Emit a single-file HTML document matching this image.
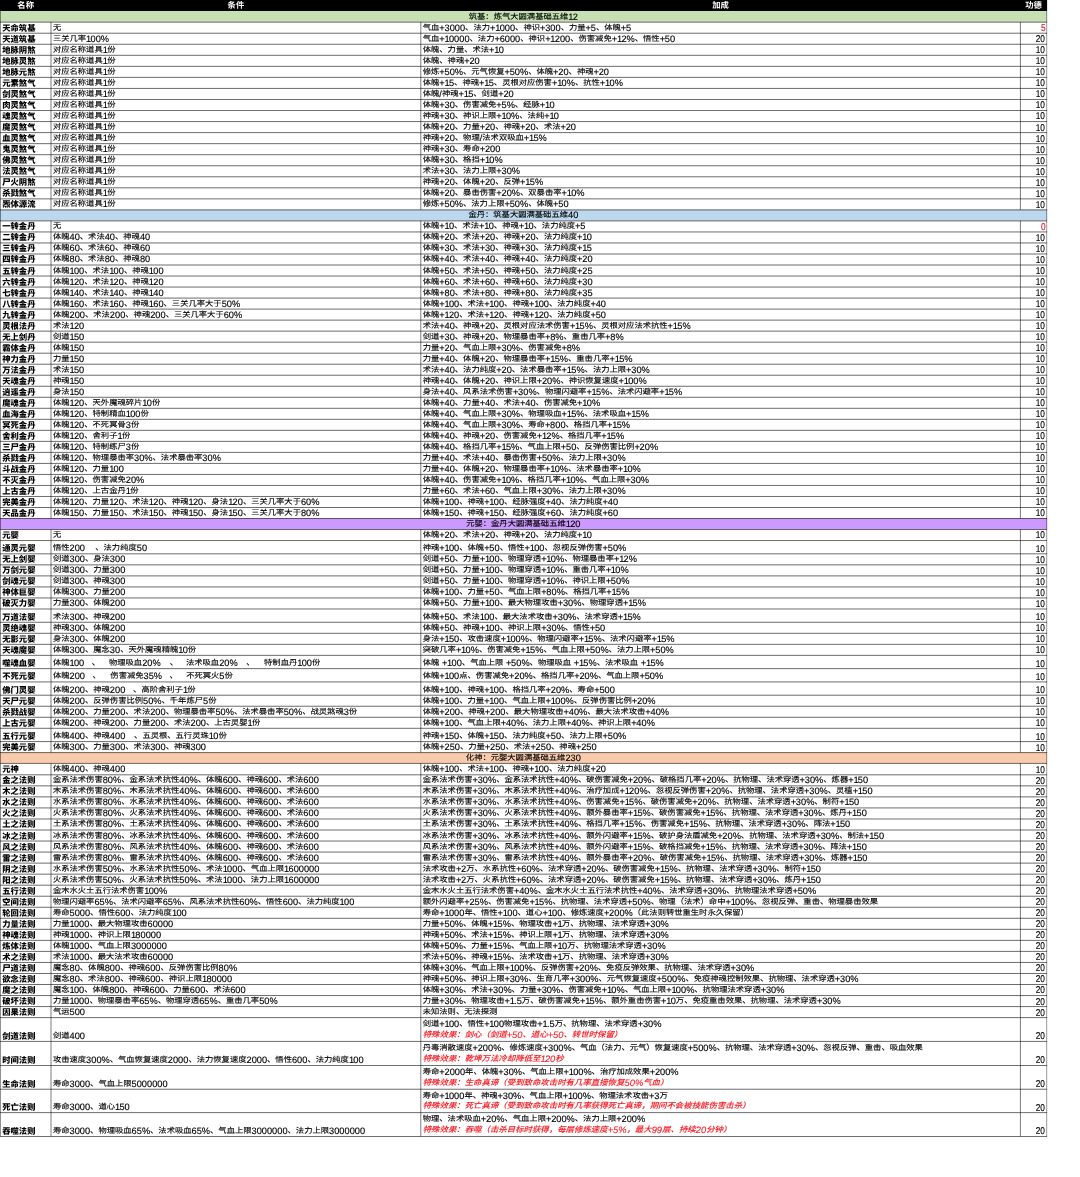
<!DOCTYPE html>
<html lang="zh-CN"><head><meta charset="utf-8"><title>功德表</title>
<style>
html,body{margin:0;padding:0;background:#fff}
body{width:1080px;height:1177px;position:relative;overflow:hidden;
 font-family:"Liberation Sans","Noto Sans CJK SC",sans-serif;font-size:8.3px;color:#000;text-rendering:geometricPrecision}
svg{position:absolute;left:0;top:0}
svg path{stroke:#000;stroke-width:0.58;fill:none}
svg path.v{stroke-width:0.52}
.c{position:absolute;height:12px;line-height:12px;white-space:pre;overflow:visible}
.c b{font-weight:inherit;line-height:0;font-size:9.25px}
.c i.g{display:inline-block;height:1px}
.k{display:inline-block;transform:scaleY(.9);transform-origin:0 12%}
.n{font-weight:900}
.h{color:#fff;font-weight:bold;text-align:center}
.s{text-align:center}
.t,.s,.m{-webkit-text-stroke-width:.14px}
.sp{-webkit-text-stroke-width:.1px}
.c u,.c s{text-decoration:none}
.c u{letter-spacing:-.7px}
.c s{letter-spacing:-.2px}
.c em{font-style:inherit;letter-spacing:-.05px}
.m{text-align:right}
.m span{line-height:0;font-size:9.9px;display:inline-block;transform:scaleX(.84);transform-origin:100% 50%}
.red{color:#d0202c}
.sp{color:#f81c24;font-style:italic;font-size:8.42px;font-weight:500}
.sp b{font-style:italic;font-size:9.38px}
</style></head>
<body>
<svg width="1080" height="1177" viewBox="0 0 1080 1177">
<rect x="0" y="0" width="1047.1" height="11" fill="#000"/>
<rect x="0" y="11" width="1047.1" height="10.95" fill="#c6e0b4"/>
<rect x="0" y="209.7" width="1047.1" height="11" fill="#bdd7ee"/>
<rect x="0" y="518.3" width="1047.1" height="11" fill="#cc99ff"/>
<rect x="0" y="752.4" width="1047.1" height="10.8" fill="#f8cbad"/>
<path d="M0 22.17 H1047.1" />
<path d="M0 33.21 H1047.1" />
<path d="M0 44.26 H1047.1" />
<path d="M0 55.3 H1047.1" />
<path d="M0 66.35 H1047.1" />
<path d="M0 77.39 H1047.1" />
<path d="M0 88.43 H1047.1" />
<path d="M0 99.48 H1047.1" />
<path d="M0 110.52 H1047.1" />
<path d="M0 121.57 H1047.1" />
<path d="M0 132.61 H1047.1" />
<path d="M0 143.66 H1047.1" />
<path d="M0 154.7 H1047.1" />
<path d="M0 165.74 H1047.1" />
<path d="M0 176.79 H1047.1" />
<path d="M0 187.83 H1047.1" />
<path d="M0 198.88 H1047.1" />
<path d="M0 209.92 H1047.1" />
<path d="M0 220.92 H1047.1" />
<path d="M0 231.94 H1047.1" />
<path d="M0 242.96 H1047.1" />
<path d="M0 253.99 H1047.1" />
<path d="M0 265.01 H1047.1" />
<path d="M0 276.03 H1047.1" />
<path d="M0 287.05 H1047.1" />
<path d="M0 298.08 H1047.1" />
<path d="M0 309.1 H1047.1" />
<path d="M0 320.12 H1047.1" />
<path d="M0 331.14 H1047.1" />
<path d="M0 342.16 H1047.1" />
<path d="M0 353.19 H1047.1" />
<path d="M0 364.21 H1047.1" />
<path d="M0 375.23 H1047.1" />
<path d="M0 386.25 H1047.1" />
<path d="M0 397.28 H1047.1" />
<path d="M0 408.3 H1047.1" />
<path d="M0 419.32 H1047.1" />
<path d="M0 430.34 H1047.1" />
<path d="M0 441.36 H1047.1" />
<path d="M0 452.39 H1047.1" />
<path d="M0 463.41 H1047.1" />
<path d="M0 474.43 H1047.1" />
<path d="M0 485.45 H1047.1" />
<path d="M0 496.48 H1047.1" />
<path d="M0 507.5 H1047.1" />
<path d="M0 518.52 H1047.1" />
<path d="M0 529.52 H1047.1" />
<path d="M0 540.55 H1047.1" />
<path d="M0 553.84 H1047.1" />
<path d="M0 564.87 H1047.1" />
<path d="M0 575.9 H1047.1" />
<path d="M0 586.93 H1047.1" />
<path d="M0 597.96 H1047.1" />
<path d="M0 608.99 H1047.1" />
<path d="M0 622.27 H1047.1" />
<path d="M0 633.3 H1047.1" />
<path d="M0 644.33 H1047.1" />
<path d="M0 655.36 H1047.1" />
<path d="M0 668.64 H1047.1" />
<path d="M0 681.93 H1047.1" />
<path d="M0 695.21 H1047.1" />
<path d="M0 706.24 H1047.1" />
<path d="M0 717.27 H1047.1" />
<path d="M0 728.3 H1047.1" />
<path d="M0 741.59 H1047.1" />
<path d="M0 752.62 H1047.1" />
<path d="M0 763.42 H1047.1" />
<path d="M0 774.82 H1047.1" />
<path d="M0 785.86 H1047.1" />
<path d="M0 796.89 H1047.1" />
<path d="M0 807.93 H1047.1" />
<path d="M0 818.97 H1047.1" />
<path d="M0 830 H1047.1" />
<path d="M0 841.04 H1047.1" />
<path d="M0 852.07 H1047.1" />
<path d="M0 863.11 H1047.1" />
<path d="M0 874.15 H1047.1" />
<path d="M0 885.18 H1047.1" />
<path d="M0 896.22 H1047.1" />
<path d="M0 907.26 H1047.1" />
<path d="M0 918.29 H1047.1" />
<path d="M0 929.33 H1047.1" />
<path d="M0 940.37 H1047.1" />
<path d="M0 951.4 H1047.1" />
<path d="M0 962.44 H1047.1" />
<path d="M0 973.47 H1047.1" />
<path d="M0 984.51 H1047.1" />
<path d="M0 995.55 H1047.1" />
<path d="M0 1006.58 H1047.1" />
<path d="M0 1017.62 H1047.1" />
<path d="M0 1041.42 H1047.1" />
<path d="M0 1065.52 H1047.1" />
<path d="M0 1089.22 H1047.1" />
<path d="M0 1112.62 H1047.1" />
<path d="M0 1136.52 H1047.1" />
<path class="v" d="M51 21.95 V209.7" />
<path class="v" d="M420.8 21.95 V209.7" />
<path class="v" d="M1020.4 21.95 V209.7" />
<path class="v" d="M51 220.7 V518.3" />
<path class="v" d="M420.8 220.7 V518.3" />
<path class="v" d="M1020.4 220.7 V518.3" />
<path class="v" d="M51 529.3 V752.4" />
<path class="v" d="M420.8 529.3 V752.4" />
<path class="v" d="M1020.4 529.3 V752.4" />
<path class="v" d="M51 763.2 V1136.3" />
<path class="v" d="M420.8 763.2 V1136.3" />
<path class="v" d="M1020.4 763.2 V1136.3" />
<path class="v" d="M0.35 11 V1136.3" />
<path class="v" style="stroke-width:.4" d="M1046.7 11 V1136.3" />
</svg>
<div class="c h" style="left:0.35px;top:-1px;width:50.65px">名称</div>
<div class="c h" style="left:51px;top:-1px;width:369.8px">条件</div>
<div class="c h" style="left:420.8px;top:-1px;width:599.6px">加成</div>
<div class="c h" style="left:1020.4px;top:-1px;width:26.3px">功德</div>
<div class="c s" style="left:0px;top:11px;width:1046.7px"><span class="k">筑基：炼气大圆满基础五维</span><b><u>1</u>2</b></div>
<div class="c n" style="left:2.25px;top:22px;width:48.75px">天命筑基</div>
<div class="c t" style="left:52.9px;top:22px;width:367.9px"><span class="k">无</span></div>
<div class="c t" style="left:422.7px;top:22px;width:597.7px"><span class="k">气血</span><b><s>+</s>3000</b><span class="k">、法力</span><b><s>+</s><u>1</u>000</b><span class="k">、神识</span><b><s>+</s>300</b><span class="k">、力量</span><b><s>+</s>5</b><span class="k">、体魄</span><b><s>+</s>5</b></div>
<div class="c m red" style="left:1020.4px;top:22px;width:24.8px"><span>5</span></div>
<div class="c n" style="left:2.25px;top:33px;width:48.75px">天道筑基</div>
<div class="c t" style="left:52.9px;top:33px;width:367.9px"><span class="k">三关几率</span><b><u>1</u>00<em>%</em></b></div>
<div class="c t" style="left:422.7px;top:33px;width:597.7px"><span class="k">气血</span><b><s>+</s><u>1</u>0000</b><span class="k">、法力</span><b><s>+</s>6000</b><span class="k">、神识</span><b><s>+</s><u>1</u>200</b><span class="k">、伤害减免</span><b><s>+</s><u>1</u>2<em>%</em></b><span class="k">、悟性</span><b><s>+</s>50</b></div>
<div class="c m" style="left:1020.4px;top:33px;width:24.8px"><span>20</span></div>
<div class="c n" style="left:2.25px;top:44px;width:48.75px">地脉阴煞</div>
<div class="c t" style="left:52.9px;top:44px;width:367.9px"><span class="k">对应名称道具</span><b><u>1</u></b><span class="k">份</span></div>
<div class="c t" style="left:422.7px;top:44px;width:597.7px"><span class="k">体魄、力量、术法</span><b><s>+</s><u>1</u>0</b></div>
<div class="c m" style="left:1020.4px;top:44px;width:24.8px"><span>10</span></div>
<div class="c n" style="left:2.25px;top:55px;width:48.75px">地脉灵煞</div>
<div class="c t" style="left:52.9px;top:55px;width:367.9px"><span class="k">对应名称道具</span><b><u>1</u></b><span class="k">份</span></div>
<div class="c t" style="left:422.7px;top:55px;width:597.7px"><span class="k">体魄、神魂</span><b><s>+</s>20</b></div>
<div class="c m" style="left:1020.4px;top:55px;width:24.8px"><span>10</span></div>
<div class="c n" style="left:2.25px;top:66px;width:48.75px">地脉元煞</div>
<div class="c t" style="left:52.9px;top:66px;width:367.9px"><span class="k">对应名称道具</span><b><u>1</u></b><span class="k">份</span></div>
<div class="c t" style="left:422.7px;top:66px;width:597.7px"><span class="k">修炼</span><b><s>+</s>50<em>%</em></b><span class="k">、元气恢复</span><b><s>+</s>50<em>%</em></b><span class="k">、体魄</span><b><s>+</s>20</b><span class="k">、神魂</span><b><s>+</s>20</b></div>
<div class="c m" style="left:1020.4px;top:66px;width:24.8px"><span>10</span></div>
<div class="c n" style="left:2.25px;top:77px;width:48.75px">元素煞气</div>
<div class="c t" style="left:52.9px;top:77px;width:367.9px"><span class="k">对应名称道具</span><b><u>1</u></b><span class="k">份</span></div>
<div class="c t" style="left:422.7px;top:77px;width:597.7px"><span class="k">体魄</span><b><s>+</s><u>1</u>5</b><span class="k">、神魂</span><b><s>+</s><u>1</u>5</b><span class="k">、灵根对应伤害</span><b><s>+</s><u>1</u>0<em>%</em></b><span class="k">、抗性</span><b><s>+</s><u>1</u>0<em>%</em></b></div>
<div class="c m" style="left:1020.4px;top:77px;width:24.8px"><span>10</span></div>
<div class="c n" style="left:2.25px;top:88px;width:48.75px">剑灵煞气</div>
<div class="c t" style="left:52.9px;top:88px;width:367.9px"><span class="k">对应名称道具</span><b><u>1</u></b><span class="k">份</span></div>
<div class="c t" style="left:422.7px;top:88px;width:597.7px"><span class="k">体魄</span><b>/</b><span class="k">神魂</span><b><s>+</s><u>1</u>5</b><span class="k">、剑道</span><b><s>+</s>20</b></div>
<div class="c m" style="left:1020.4px;top:88px;width:24.8px"><span>10</span></div>
<div class="c n" style="left:2.25px;top:99px;width:48.75px">肉灵煞气</div>
<div class="c t" style="left:52.9px;top:99px;width:367.9px"><span class="k">对应名称道具</span><b><u>1</u></b><span class="k">份</span></div>
<div class="c t" style="left:422.7px;top:99px;width:597.7px"><span class="k">体魄</span><b><s>+</s>30</b><span class="k">、伤害减免</span><b><s>+</s>5<em>%</em></b><span class="k">、经脉</span><b><s>+</s><u>1</u>0</b></div>
<div class="c m" style="left:1020.4px;top:99px;width:24.8px"><span>10</span></div>
<div class="c n" style="left:2.25px;top:110px;width:48.75px">魂灵煞气</div>
<div class="c t" style="left:52.9px;top:110px;width:367.9px"><span class="k">对应名称道具</span><b><u>1</u></b><span class="k">份</span></div>
<div class="c t" style="left:422.7px;top:110px;width:597.7px"><span class="k">神魂</span><b><s>+</s>30</b><span class="k">、神识上限</span><b><s>+</s><u>1</u>0<em>%</em></b><span class="k">、法纯</span><b><s>+</s><u>1</u>0</b></div>
<div class="c m" style="left:1020.4px;top:110px;width:24.8px"><span>10</span></div>
<div class="c n" style="left:2.25px;top:121px;width:48.75px">魔灵煞气</div>
<div class="c t" style="left:52.9px;top:121px;width:367.9px"><span class="k">对应名称道具</span><b><u>1</u></b><span class="k">份</span></div>
<div class="c t" style="left:422.7px;top:121px;width:597.7px"><span class="k">体魄</span><b><s>+</s>20</b><span class="k">、力量</span><b><s>+</s>20</b><span class="k">、神魂</span><b><s>+</s>20</b><span class="k">、术法</span><b><s>+</s>20</b></div>
<div class="c m" style="left:1020.4px;top:122px;width:24.8px"><span>10</span></div>
<div class="c n" style="left:2.25px;top:132px;width:48.75px">血灵煞气</div>
<div class="c t" style="left:52.9px;top:132px;width:367.9px"><span class="k">对应名称道具</span><b><u>1</u></b><span class="k">份</span></div>
<div class="c t" style="left:422.7px;top:132px;width:597.7px"><span class="k">神魂</span><b><s>+</s>20</b><span class="k">、物理</span><b>/</b><span class="k">法术双吸血</span><b><s>+</s><u>1</u>5<em>%</em></b></div>
<div class="c m" style="left:1020.4px;top:133px;width:24.8px"><span>10</span></div>
<div class="c n" style="left:2.25px;top:143px;width:48.75px">鬼灵煞气</div>
<div class="c t" style="left:52.9px;top:143px;width:367.9px"><span class="k">对应名称道具</span><b><u>1</u></b><span class="k">份</span></div>
<div class="c t" style="left:422.7px;top:143px;width:597.7px"><span class="k">神魂</span><b><s>+</s>30</b><span class="k">、寿命</span><b><s>+</s>200</b></div>
<div class="c m" style="left:1020.4px;top:144px;width:24.8px"><span>10</span></div>
<div class="c n" style="left:2.25px;top:154px;width:48.75px">佛灵煞气</div>
<div class="c t" style="left:52.9px;top:154px;width:367.9px"><span class="k">对应名称道具</span><b><u>1</u></b><span class="k">份</span></div>
<div class="c t" style="left:422.7px;top:154px;width:597.7px"><span class="k">体魄</span><b><s>+</s>30</b><span class="k">、格挡</span><b><s>+</s><u>1</u>0<em>%</em></b></div>
<div class="c m" style="left:1020.4px;top:155px;width:24.8px"><span>10</span></div>
<div class="c n" style="left:2.25px;top:165px;width:48.75px">法灵煞气</div>
<div class="c t" style="left:52.9px;top:165px;width:367.9px"><span class="k">对应名称道具</span><b><u>1</u></b><span class="k">份</span></div>
<div class="c t" style="left:422.7px;top:165px;width:597.7px"><span class="k">术法</span><b><s>+</s>30</b><span class="k">、法力上限</span><b><s>+</s>30<em>%</em></b></div>
<div class="c m" style="left:1020.4px;top:166px;width:24.8px"><span>10</span></div>
<div class="c n" style="left:2.25px;top:176px;width:48.75px">尸火阴煞</div>
<div class="c t" style="left:52.9px;top:176px;width:367.9px"><span class="k">对应名称道具</span><b><u>1</u></b><span class="k">份</span></div>
<div class="c t" style="left:422.7px;top:176px;width:597.7px"><span class="k">神魂</span><b><s>+</s>20</b><span class="k">、体魄</span><b><s>+</s>20</b><span class="k">、反弹</span><b><s>+</s><u>1</u>5<em>%</em></b></div>
<div class="c m" style="left:1020.4px;top:177px;width:24.8px"><span>10</span></div>
<div class="c n" style="left:2.25px;top:187px;width:48.75px">杀戮煞气</div>
<div class="c t" style="left:52.9px;top:187px;width:367.9px"><span class="k">对应名称道具</span><b><u>1</u></b><span class="k">份</span></div>
<div class="c t" style="left:422.7px;top:187px;width:597.7px"><span class="k">体魄</span><b><s>+</s>20</b><span class="k">、暴击伤害</span><b><s>+</s>20<em>%</em></b><span class="k">、双暴击率</span><b><s>+</s><u>1</u>0<em>%</em></b></div>
<div class="c m" style="left:1020.4px;top:188px;width:24.8px"><span>10</span></div>
<div class="c n" style="left:2.25px;top:198px;width:48.75px">炁体源流</div>
<div class="c t" style="left:52.9px;top:198px;width:367.9px"><span class="k">对应名称道具</span><b><u>1</u></b><span class="k">份</span></div>
<div class="c t" style="left:422.7px;top:198px;width:597.7px"><span class="k">修炼</span><b><s>+</s>50<em>%</em></b><span class="k">、法力上限</span><b><s>+</s>50<em>%</em></b><span class="k">、体魄</span><b><s>+</s>50</b></div>
<div class="c m" style="left:1020.4px;top:199px;width:24.8px"><span>10</span></div>
<div class="c s" style="left:0px;top:209px;width:1046.7px"><span class="k">金丹：筑基大圆满基础五维</span><b>40</b></div>
<div class="c n" style="left:2.25px;top:220px;width:48.75px">一转金丹</div>
<div class="c t" style="left:52.9px;top:220px;width:367.9px"><span class="k">无</span></div>
<div class="c t" style="left:422.7px;top:220px;width:597.7px"><span class="k">体魄</span><b><s>+</s><u>1</u>0</b><span class="k">、术法</span><b><s>+</s><u>1</u>0</b><span class="k">、神魂</span><b><s>+</s><u>1</u>0</b><span class="k">、法力纯度</span><b><s>+</s>5</b></div>
<div class="c m red" style="left:1020.4px;top:221px;width:24.8px"><span>0</span></div>
<div class="c n" style="left:2.25px;top:231px;width:48.75px">二转金丹</div>
<div class="c t" style="left:52.9px;top:231px;width:367.9px"><span class="k">体魄</span><b>40</b><span class="k">、术法</span><b>40</b><span class="k">、神魂</span><b>40</b></div>
<div class="c t" style="left:422.7px;top:231px;width:597.7px"><span class="k">体魄</span><b><s>+</s>20</b><span class="k">、术法</span><b><s>+</s>20</b><span class="k">、神魂</span><b><s>+</s>20</b><span class="k">、法力纯度</span><b><s>+</s><u>1</u>0</b></div>
<div class="c m" style="left:1020.4px;top:232px;width:24.8px"><span>10</span></div>
<div class="c n" style="left:2.25px;top:242px;width:48.75px">三转金丹</div>
<div class="c t" style="left:52.9px;top:242px;width:367.9px"><span class="k">体魄</span><b>60</b><span class="k">、术法</span><b>60</b><span class="k">、神魂</span><b>60</b></div>
<div class="c t" style="left:422.7px;top:242px;width:597.7px"><span class="k">体魄</span><b><s>+</s>30</b><span class="k">、术法</span><b><s>+</s>30</b><span class="k">、神魂</span><b><s>+</s>30</b><span class="k">、法力纯度</span><b><s>+</s><u>1</u>5</b></div>
<div class="c m" style="left:1020.4px;top:243px;width:24.8px"><span>10</span></div>
<div class="c n" style="left:2.25px;top:253px;width:48.75px">四转金丹</div>
<div class="c t" style="left:52.9px;top:253px;width:367.9px"><span class="k">体魄</span><b>80</b><span class="k">、术法</span><b>80</b><span class="k">、神魂</span><b>80</b></div>
<div class="c t" style="left:422.7px;top:253px;width:597.7px"><span class="k">体魄</span><b><s>+</s>40</b><span class="k">、术法</span><b><s>+</s>40</b><span class="k">、神魂</span><b><s>+</s>40</b><span class="k">、法力纯度</span><b><s>+</s>20</b></div>
<div class="c m" style="left:1020.4px;top:254px;width:24.8px"><span>10</span></div>
<div class="c n" style="left:2.25px;top:265px;width:48.75px">五转金丹</div>
<div class="c t" style="left:52.9px;top:265px;width:367.9px"><span class="k">体魄</span><b><u>1</u>00</b><span class="k">、术法</span><b><u>1</u>00</b><span class="k">、神魂</span><b><u>1</u>00</b></div>
<div class="c t" style="left:422.7px;top:265px;width:597.7px"><span class="k">体魄</span><b><s>+</s>50</b><span class="k">、术法</span><b><s>+</s>50</b><span class="k">、神魂</span><b><s>+</s>50</b><span class="k">、法力纯度</span><b><s>+</s>25</b></div>
<div class="c m" style="left:1020.4px;top:265px;width:24.8px"><span>10</span></div>
<div class="c n" style="left:2.25px;top:276px;width:48.75px">六转金丹</div>
<div class="c t" style="left:52.9px;top:276px;width:367.9px"><span class="k">体魄</span><b><u>1</u>20</b><span class="k">、术法</span><b><u>1</u>20</b><span class="k">、神魂</span><b><u>1</u>20</b></div>
<div class="c t" style="left:422.7px;top:276px;width:597.7px"><span class="k">体魄</span><b><s>+</s>60</b><span class="k">、术法</span><b><s>+</s>60</b><span class="k">、神魂</span><b><s>+</s>60</b><span class="k">、法力纯度</span><b><s>+</s>30</b></div>
<div class="c m" style="left:1020.4px;top:276px;width:24.8px"><span>10</span></div>
<div class="c n" style="left:2.25px;top:287px;width:48.75px">七转金丹</div>
<div class="c t" style="left:52.9px;top:287px;width:367.9px"><span class="k">体魄</span><b><u>1</u>40</b><span class="k">、术法</span><b><u>1</u>40</b><span class="k">、神魂</span><b><u>1</u>40</b></div>
<div class="c t" style="left:422.7px;top:287px;width:597.7px"><span class="k">体魄</span><b><s>+</s>80</b><span class="k">、术法</span><b><s>+</s>80</b><span class="k">、神魂</span><b><s>+</s>80</b><span class="k">、法力纯度</span><b><s>+</s>35</b></div>
<div class="c m" style="left:1020.4px;top:287px;width:24.8px"><span>10</span></div>
<div class="c n" style="left:2.25px;top:298px;width:48.75px">八转金丹</div>
<div class="c t" style="left:52.9px;top:298px;width:367.9px"><span class="k">体魄</span><b><u>1</u>60</b><span class="k">、术法</span><b><u>1</u>60</b><span class="k">、神魂</span><b><u>1</u>60</b><span class="k">、三关几率大于</span><b>50<em>%</em></b></div>
<div class="c t" style="left:422.7px;top:298px;width:597.7px"><span class="k">体魄</span><b><s>+</s><u>1</u>00</b><span class="k">、术法</span><b><s>+</s><u>1</u>00</b><span class="k">、神魂</span><b><s>+</s><u>1</u>00</b><span class="k">、法力纯度</span><b><s>+</s>40</b></div>
<div class="c m" style="left:1020.4px;top:298px;width:24.8px"><span>10</span></div>
<div class="c n" style="left:2.25px;top:309px;width:48.75px">九转金丹</div>
<div class="c t" style="left:52.9px;top:309px;width:367.9px"><span class="k">体魄</span><b>200</b><span class="k">、术法</span><b>200</b><span class="k">、神魂</span><b>200</b><span class="k">、三关几率大于</span><b>60<em>%</em></b></div>
<div class="c t" style="left:422.7px;top:309px;width:597.7px"><span class="k">体魄</span><b><s>+</s><u>1</u>20</b><span class="k">、术法</span><b><s>+</s><u>1</u>20</b><span class="k">、神魂</span><b><s>+</s><u>1</u>20</b><span class="k">、法力纯度</span><b><s>+</s>50</b></div>
<div class="c m" style="left:1020.4px;top:309px;width:24.8px"><span>10</span></div>
<div class="c n" style="left:2.25px;top:320px;width:48.75px">灵根法丹</div>
<div class="c t" style="left:52.9px;top:320px;width:367.9px"><span class="k">术法</span><b><u>1</u>20</b></div>
<div class="c t" style="left:422.7px;top:320px;width:597.7px"><span class="k">术法</span><b><s>+</s>40</b><span class="k">、神魂</span><b><s>+</s>20</b><span class="k">、灵根对应法术伤害</span><b><s>+</s><u>1</u>5<em>%</em></b><span class="k">、灵根对应法术抗性</span><b><s>+</s><u>1</u>5<em>%</em></b></div>
<div class="c m" style="left:1020.4px;top:320px;width:24.8px"><span>10</span></div>
<div class="c n" style="left:2.25px;top:331px;width:48.75px">无上剑丹</div>
<div class="c t" style="left:52.9px;top:331px;width:367.9px"><span class="k">剑道</span><b><u>1</u>50</b></div>
<div class="c t" style="left:422.7px;top:331px;width:597.7px"><span class="k">剑道</span><b><s>+</s>30</b><span class="k">、神魂</span><b><s>+</s>20</b><span class="k">、物理暴击率</span><b><s>+</s>8<em>%</em></b><span class="k">、重击几率</span><b><s>+</s>8<em>%</em></b></div>
<div class="c m" style="left:1020.4px;top:331px;width:24.8px"><span>10</span></div>
<div class="c n" style="left:2.25px;top:342px;width:48.75px">霸体金丹</div>
<div class="c t" style="left:52.9px;top:342px;width:367.9px"><span class="k">体魄</span><b><u>1</u>50</b></div>
<div class="c t" style="left:422.7px;top:342px;width:597.7px"><span class="k">力量</span><b><s>+</s>20</b><span class="k">、气血上限</span><b><s>+</s>30<em>%</em></b><span class="k">、伤害减免</span><b><s>+</s>8<em>%</em></b></div>
<div class="c m" style="left:1020.4px;top:342px;width:24.8px"><span>10</span></div>
<div class="c n" style="left:2.25px;top:353px;width:48.75px">神力金丹</div>
<div class="c t" style="left:52.9px;top:353px;width:367.9px"><span class="k">力量</span><b><u>1</u>50</b></div>
<div class="c t" style="left:422.7px;top:353px;width:597.7px"><span class="k">力量</span><b><s>+</s>40</b><span class="k">、体魄</span><b><s>+</s>20</b><span class="k">、物理暴击率</span><b><s>+</s><u>1</u>5<em>%</em></b><span class="k">、重击几率</span><b><s>+</s><u>1</u>5<em>%</em></b></div>
<div class="c m" style="left:1020.4px;top:353px;width:24.8px"><span>10</span></div>
<div class="c n" style="left:2.25px;top:364px;width:48.75px">万法金丹</div>
<div class="c t" style="left:52.9px;top:364px;width:367.9px"><span class="k">术法</span><b><u>1</u>50</b></div>
<div class="c t" style="left:422.7px;top:364px;width:597.7px"><span class="k">术法</span><b><s>+</s>40</b><span class="k">、法力纯度</span><b><s>+</s>20</b><span class="k">、法术暴击率</span><b><s>+</s><u>1</u>5<em>%</em></b><span class="k">、法力上限</span><b><s>+</s>30<em>%</em></b></div>
<div class="c m" style="left:1020.4px;top:364px;width:24.8px"><span>10</span></div>
<div class="c n" style="left:2.25px;top:375px;width:48.75px">天魂金丹</div>
<div class="c t" style="left:52.9px;top:375px;width:367.9px"><span class="k">神魂</span><b><u>1</u>50</b></div>
<div class="c t" style="left:422.7px;top:375px;width:597.7px"><span class="k">神魂</span><b><s>+</s>40</b><span class="k">、体魄</span><b><s>+</s>20</b><span class="k">、神识上限</span><b><s>+</s>20<em>%</em></b><span class="k">、神识恢复速度</span><b><s>+</s><u>1</u>00<em>%</em></b></div>
<div class="c m" style="left:1020.4px;top:375px;width:24.8px"><span>10</span></div>
<div class="c n" style="left:2.25px;top:386px;width:48.75px">逍遥金丹</div>
<div class="c t" style="left:52.9px;top:386px;width:367.9px"><span class="k">身法</span><b><u>1</u>50</b></div>
<div class="c t" style="left:422.7px;top:386px;width:597.7px"><span class="k">身法</span><b><s>+</s>40</b><span class="k">、风系法术伤害</span><b><s>+</s>30<em>%</em></b><span class="k">、物理闪避率</span><b><s>+</s><u>1</u>5<em>%</em></b><span class="k">、法术闪避率</span><b><s>+</s><u>1</u>5<em>%</em></b></div>
<div class="c m" style="left:1020.4px;top:386px;width:24.8px"><span>10</span></div>
<div class="c n" style="left:2.25px;top:397px;width:48.75px">魔魂金丹</div>
<div class="c t" style="left:52.9px;top:397px;width:367.9px"><span class="k">体魄</span><b><u>1</u>20</b><span class="k">、天外魔魂碎片</span><b><u>1</u>0</b><span class="k">份</span></div>
<div class="c t" style="left:422.7px;top:397px;width:597.7px"><span class="k">体魄</span><b><s>+</s>40</b><span class="k">、力量</span><b><s>+</s>40</b><span class="k">、术法</span><b><s>+</s>40</b><span class="k">、伤害减免</span><b><s>+</s><u>1</u>0<em>%</em></b></div>
<div class="c m" style="left:1020.4px;top:397px;width:24.8px"><span>10</span></div>
<div class="c n" style="left:2.25px;top:408px;width:48.75px">血海金丹</div>
<div class="c t" style="left:52.9px;top:408px;width:367.9px"><span class="k">体魄</span><b><u>1</u>20</b><span class="k">、特制精血</span><b><u>1</u>00</b><span class="k">份</span></div>
<div class="c t" style="left:422.7px;top:408px;width:597.7px"><span class="k">体魄</span><b><s>+</s>40</b><span class="k">、气血上限</span><b><s>+</s>30<em>%</em></b><span class="k">、物理吸血</span><b><s>+</s><u>1</u>5<em>%</em></b><span class="k">、法术吸血</span><b><s>+</s><u>1</u>5<em>%</em></b></div>
<div class="c m" style="left:1020.4px;top:408px;width:24.8px"><span>10</span></div>
<div class="c n" style="left:2.25px;top:419px;width:48.75px">冥死金丹</div>
<div class="c t" style="left:52.9px;top:419px;width:367.9px"><span class="k">体魄</span><b><u>1</u>20</b><span class="k">、不死冥骨</span><b>3</b><span class="k">份</span></div>
<div class="c t" style="left:422.7px;top:419px;width:597.7px"><span class="k">体魄</span><b><s>+</s>40</b><span class="k">、气血上限</span><b><s>+</s>30<em>%</em></b><span class="k">、寿命</span><b><s>+</s>800</b><span class="k">、格挡几率</span><b><s>+</s><u>1</u>5<em>%</em></b></div>
<div class="c m" style="left:1020.4px;top:419px;width:24.8px"><span>10</span></div>
<div class="c n" style="left:2.25px;top:430px;width:48.75px">舍利金丹</div>
<div class="c t" style="left:52.9px;top:430px;width:367.9px"><span class="k">体魄</span><b><u>1</u>20</b><span class="k">、舍利子</span><b><u>1</u></b><span class="k">份</span></div>
<div class="c t" style="left:422.7px;top:430px;width:597.7px"><span class="k">体魄</span><b><s>+</s>40</b><span class="k">、神魂</span><b><s>+</s>20</b><span class="k">、伤害减免</span><b><s>+</s><u>1</u>2<em>%</em></b><span class="k">、格挡几率</span><b><s>+</s><u>1</u>5<em>%</em></b></div>
<div class="c m" style="left:1020.4px;top:430px;width:24.8px"><span>10</span></div>
<div class="c n" style="left:2.25px;top:441px;width:48.75px">三尸金丹</div>
<div class="c t" style="left:52.9px;top:441px;width:367.9px"><span class="k">体魄</span><b><u>1</u>20</b><span class="k">、特制练尸</span><b>3</b><span class="k">份</span></div>
<div class="c t" style="left:422.7px;top:441px;width:597.7px"><span class="k">体魄</span><b><s>+</s>40</b><span class="k">、格挡几率</span><b><s>+</s><u>1</u>5<em>%</em></b><span class="k">、气血上限</span><b><s>+</s>50</b><span class="k">、反弹伤害比例</span><b><s>+</s>20<em>%</em></b></div>
<div class="c m" style="left:1020.4px;top:441px;width:24.8px"><span>10</span></div>
<div class="c n" style="left:2.25px;top:452px;width:48.75px">杀戮金丹</div>
<div class="c t" style="left:52.9px;top:452px;width:367.9px"><span class="k">体魄</span><b><u>1</u>20</b><span class="k">、物理暴击率</span><b>30<em>%</em></b><span class="k">、法术暴击率</span><b>30<em>%</em></b></div>
<div class="c t" style="left:422.7px;top:452px;width:597.7px"><span class="k">力量</span><b><s>+</s>40</b><span class="k">、术法</span><b><s>+</s>40</b><span class="k">、暴击伤害</span><b><s>+</s>50<em>%</em></b><span class="k">、法力上限</span><b><s>+</s>30<em>%</em></b></div>
<div class="c m" style="left:1020.4px;top:452px;width:24.8px"><span>10</span></div>
<div class="c n" style="left:2.25px;top:463px;width:48.75px">斗战金丹</div>
<div class="c t" style="left:52.9px;top:463px;width:367.9px"><span class="k">体魄</span><b><u>1</u>20</b><span class="k">、力量</span><b><u>1</u>00</b></div>
<div class="c t" style="left:422.7px;top:463px;width:597.7px"><span class="k">力量</span><b><s>+</s>40</b><span class="k">、体魄</span><b><s>+</s>20</b><span class="k">、物理暴击率</span><b><s>+</s><u>1</u>0<em>%</em></b><span class="k">、法术暴击率</span><b><s>+</s><u>1</u>0<em>%</em></b></div>
<div class="c m" style="left:1020.4px;top:463px;width:24.8px"><span>10</span></div>
<div class="c n" style="left:2.25px;top:474px;width:48.75px">不灭金丹</div>
<div class="c t" style="left:52.9px;top:474px;width:367.9px"><span class="k">体魄</span><b><u>1</u>20</b><span class="k">、伤害减免</span><b>20<em>%</em></b></div>
<div class="c t" style="left:422.7px;top:474px;width:597.7px"><span class="k">体魄</span><b><s>+</s>40</b><span class="k">、伤害减免</span><b><s>+</s><u>1</u>0<em>%</em></b><span class="k">、格挡几率</span><b><s>+</s><u>1</u>0<em>%</em></b><span class="k">、气血上限</span><b><s>+</s>30<em>%</em></b></div>
<div class="c m" style="left:1020.4px;top:474px;width:24.8px"><span>10</span></div>
<div class="c n" style="left:2.25px;top:485px;width:48.75px">上古金丹</div>
<div class="c t" style="left:52.9px;top:485px;width:367.9px"><span class="k">体魄</span><b><u>1</u>20</b><span class="k">、上古金丹</span><b><u>1</u></b><span class="k">份</span></div>
<div class="c t" style="left:422.7px;top:485px;width:597.7px"><span class="k">力量</span><b><s>+</s>60</b><span class="k">、术法</span><b><s>+</s>60</b><span class="k">、气血上限</span><b><s>+</s>30<em>%</em></b><span class="k">、法力上限</span><b><s>+</s>30<em>%</em></b></div>
<div class="c m" style="left:1020.4px;top:485px;width:24.8px"><span>10</span></div>
<div class="c n" style="left:2.25px;top:496px;width:48.75px">完美金丹</div>
<div class="c t" style="left:52.9px;top:496px;width:367.9px"><span class="k">体魄</span><b><u>1</u>20</b><span class="k">、力量</span><b><u>1</u>20</b><span class="k">、术法</span><b><u>1</u>20</b><span class="k">、神魂</span><b><u>1</u>20</b><span class="k">、身法</span><b><u>1</u>20</b><span class="k">、三关几率大于</span><b>60<em>%</em></b></div>
<div class="c t" style="left:422.7px;top:496px;width:597.7px"><span class="k">体魄</span><b><s>+</s><u>1</u>00</b><span class="k">、神魂</span><b><s>+</s><u>1</u>00</b><span class="k">、经脉强度</span><b><s>+</s>40</b><span class="k">、法力纯度</span><b><s>+</s>40</b></div>
<div class="c m" style="left:1020.4px;top:496px;width:24.8px"><span>10</span></div>
<div class="c n" style="left:2.25px;top:507px;width:48.75px">天品金丹</div>
<div class="c t" style="left:52.9px;top:507px;width:367.9px"><span class="k">体魄</span><b><u>1</u>50</b><span class="k">、力量</span><b><u>1</u>50</b><span class="k">、术法</span><b><u>1</u>50</b><span class="k">、神魂</span><b><u>1</u>50</b><span class="k">、身法</span><b><u>1</u>50</b><span class="k">、三关几率大于</span><b>80<em>%</em></b></div>
<div class="c t" style="left:422.7px;top:507px;width:597.7px"><span class="k">体魄</span><b><s>+</s><u>1</u>50</b><span class="k">、神魂</span><b><s>+</s><u>1</u>50</b><span class="k">、经脉强度</span><b><s>+</s>60</b><span class="k">、法力纯度</span><b><s>+</s>60</b></div>
<div class="c m" style="left:1020.4px;top:507px;width:24.8px"><span>10</span></div>
<div class="c s" style="left:0px;top:518px;width:1046.7px"><span class="k">元婴：金丹大圆满基础五维</span><b><u>1</u>20</b></div>
<div class="c n" style="left:2.25px;top:529px;width:48.75px">元婴</div>
<div class="c t" style="left:52.9px;top:529px;width:367.9px"><span class="k">无</span></div>
<div class="c t" style="left:422.7px;top:529px;width:597.7px"><span class="k">体魄</span><b><s>+</s>20</b><span class="k">、术法</span><b><s>+</s>20</b><span class="k">、神魂</span><b><s>+</s>20</b><span class="k">、法力纯度</span><b><s>+</s><u>1</u>0</b></div>
<div class="c m" style="left:1020.4px;top:529px;width:24.8px"><span>10</span></div>
<div class="c n" style="left:2.25px;top:542px;width:48.75px">通灵元婴</div>
<div class="c t" style="left:52.9px;top:542px;width:367.9px"><span class="k">悟性</span><b>200</b><i class="g" style="width:10.3px"></i><span class="k">、法力纯度</span><b>50</b></div>
<div class="c t" style="left:422.7px;top:542px;width:597.7px"><span class="k">神魂</span><b><s>+</s><u>1</u>00</b><span class="k">、体魄</span><b><s>+</s>50</b><span class="k">、悟性</span><b><s>+</s><u>1</u>00</b><span class="k">、忽视反弹伤害</span><b><s>+</s>50<em>%</em></b></div>
<div class="c m" style="left:1020.4px;top:543px;width:24.8px"><span>10</span></div>
<div class="c n" style="left:2.25px;top:553px;width:48.75px">无上剑婴</div>
<div class="c t" style="left:52.9px;top:553px;width:367.9px"><span class="k">剑道</span><b>300</b><span class="k">、身法</span><b>300</b></div>
<div class="c t" style="left:422.7px;top:553px;width:597.7px"><span class="k">剑道</span><b><s>+</s>50</b><span class="k">、力量</span><b><s>+</s><u>1</u>00</b><span class="k">、物理穿透</span><b><s>+</s><u>1</u>0<em>%</em></b><span class="k">、物理暴击率</span><b><s>+</s><u>1</u>2<em>%</em></b></div>
<div class="c m" style="left:1020.4px;top:554px;width:24.8px"><span>10</span></div>
<div class="c n" style="left:2.25px;top:564px;width:48.75px">万剑元婴</div>
<div class="c t" style="left:52.9px;top:564px;width:367.9px"><span class="k">剑道</span><b>300</b><span class="k">、力量</span><b>300</b></div>
<div class="c t" style="left:422.7px;top:564px;width:597.7px"><span class="k">剑道</span><b><s>+</s>50</b><span class="k">、力量</span><b><s>+</s><u>1</u>00</b><span class="k">、物理穿透</span><b><s>+</s><u>1</u>0<em>%</em></b><span class="k">、重击几率</span><b><s>+</s><u>1</u>0<em>%</em></b></div>
<div class="c m" style="left:1020.4px;top:565px;width:24.8px"><span>10</span></div>
<div class="c n" style="left:2.25px;top:575px;width:48.75px">剑魂元婴</div>
<div class="c t" style="left:52.9px;top:575px;width:367.9px"><span class="k">剑道</span><b>300</b><span class="k">、神魂</span><b>300</b></div>
<div class="c t" style="left:422.7px;top:575px;width:597.7px"><span class="k">剑道</span><b><s>+</s>50</b><span class="k">、力量</span><b><s>+</s><u>1</u>00</b><span class="k">、物理穿透</span><b><s>+</s><u>1</u>0<em>%</em></b><span class="k">、神识上限</span><b><s>+</s>50<em>%</em></b></div>
<div class="c m" style="left:1020.4px;top:576px;width:24.8px"><span>10</span></div>
<div class="c n" style="left:2.25px;top:586px;width:48.75px">神体巨婴</div>
<div class="c t" style="left:52.9px;top:586px;width:367.9px"><span class="k">体魄</span><b>300</b><span class="k">、力量</span><b>200</b></div>
<div class="c t" style="left:422.7px;top:586px;width:597.7px"><span class="k">体魄</span><b><s>+</s><u>1</u>00</b><span class="k">、力量</span><b><s>+</s>50</b><span class="k">、气血上限</span><b><s>+</s>80<em>%</em></b><span class="k">、格挡几率</span><b><s>+</s><u>1</u>5<em>%</em></b></div>
<div class="c m" style="left:1020.4px;top:587px;width:24.8px"><span>10</span></div>
<div class="c n" style="left:2.25px;top:597px;width:48.75px">破灭力婴</div>
<div class="c t" style="left:52.9px;top:597px;width:367.9px"><span class="k">力量</span><b>300</b><span class="k">、体魄</span><b>200</b></div>
<div class="c t" style="left:422.7px;top:597px;width:597.7px"><span class="k">体魄</span><b><s>+</s>50</b><span class="k">、力量</span><b><s>+</s><u>1</u>00</b><span class="k">、最大物理攻击</span><b><s>+</s>30<em>%</em></b><span class="k">、物理穿透</span><b><s>+</s><u>1</u>5<em>%</em></b></div>
<div class="c m" style="left:1020.4px;top:598px;width:24.8px"><span>10</span></div>
<div class="c n" style="left:2.25px;top:611px;width:48.75px">万道法婴</div>
<div class="c t" style="left:52.9px;top:611px;width:367.9px"><span class="k">术法</span><b>300</b><span class="k">、神魂</span><b>200</b></div>
<div class="c t" style="left:422.7px;top:611px;width:597.7px"><span class="k">体魄</span><b><s>+</s>50</b><span class="k">、术法</span><b><u>1</u>00</b><span class="k">、最大法术攻击</span><b><s>+</s>30<em>%</em></b><span class="k">、法术穿透</span><b><s>+</s><u>1</u>5<em>%</em></b></div>
<div class="c m" style="left:1020.4px;top:611px;width:24.8px"><span>10</span></div>
<div class="c n" style="left:2.25px;top:622px;width:48.75px">灵绝魂婴</div>
<div class="c t" style="left:52.9px;top:622px;width:367.9px"><span class="k">神魂</span><b>300</b><span class="k">、体魄</span><b>200</b></div>
<div class="c t" style="left:422.7px;top:622px;width:597.7px"><span class="k">体魄</span><b><s>+</s>50</b><span class="k">、神魂</span><b><s>+</s><u>1</u>00</b><span class="k">、神识上限</span><b><s>+</s>30<em>%</em></b><span class="k">、悟性</span><b><s>+</s>50</b></div>
<div class="c m" style="left:1020.4px;top:622px;width:24.8px"><span>10</span></div>
<div class="c n" style="left:2.25px;top:633px;width:48.75px">无影元婴</div>
<div class="c t" style="left:52.9px;top:633px;width:367.9px"><span class="k">身法</span><b>300</b><span class="k">、体魄</span><b>200</b></div>
<div class="c t" style="left:422.7px;top:633px;width:597.7px"><span class="k">身法</span><b><s>+</s><u>1</u>50</b><span class="k">、攻击速度</span><b><s>+</s><u>1</u>00<em>%</em></b><span class="k">、物理闪避率</span><b><s>+</s><u>1</u>5<em>%</em></b><span class="k">、法术闪避率</span><b><s>+</s><u>1</u>5<em>%</em></b></div>
<div class="c m" style="left:1020.4px;top:633px;width:24.8px"><span>10</span></div>
<div class="c n" style="left:2.25px;top:644px;width:48.75px">天魂魔婴</div>
<div class="c t" style="left:52.9px;top:644px;width:367.9px"><span class="k">体魄</span><b>300</b><span class="k">、魔念</span><b>30</b><span class="k">、天外魔魂精魄</span><b><u>1</u>0</b><span class="k">份</span></div>
<div class="c t" style="left:422.7px;top:644px;width:597.7px"><span class="k">突破几率</span><b><s>+</s><u>1</u>0<em>%</em></b><span class="k">、伤害减免</span><b><s>+</s><u>1</u>5<em>%</em></b><span class="k">、气血上限</span><b><s>+</s>50<em>%</em></b><span class="k">、法力上限</span><b><s>+</s>50<em>%</em></b></div>
<div class="c m" style="left:1020.4px;top:644px;width:24.8px"><span>10</span></div>
<div class="c n" style="left:2.25px;top:657px;width:48.75px">噬魂血婴</div>
<div class="c t" style="left:52.9px;top:657px;width:367.9px"><span class="k">体魄</span><b><u>1</u>00</b><i class="g" style="width:7.6px"></i><span class="k">、</span><i class="g" style="width:8.8px"></i><span class="k">物理吸血</span><b>20<em>%</em></b><i class="g" style="width:9.0px"></i><span class="k">、</span><i class="g" style="width:8.0px"></i><span class="k">法术吸血</span><b>20<em>%</em></b><i class="g" style="width:8.5px"></i><span class="k">、</span><i class="g" style="width:9.6px"></i><span class="k">特制血丹</span><b><u>1</u>00</b><span class="k">份</span></div>
<div class="c t" style="left:422.7px;top:657px;width:597.7px"><span class="k">体魄</span><b> <s>+</s><u>1</u>00</b><span class="k">、气血上限</span><b> <s>+</s>50<em>%</em></b><span class="k">、物理吸血</span><b> <s>+</s><u>1</u>5<em>%</em></b><span class="k">、法术吸血</span><b> <s>+</s><u>1</u>5<em>%</em></b></div>
<div class="c m" style="left:1020.4px;top:658px;width:24.8px"><span>10</span></div>
<div class="c n" style="left:2.25px;top:670px;width:48.75px">不死元婴</div>
<div class="c t" style="left:52.9px;top:670px;width:367.9px"><span class="k">体魄</span><b>200</b><i class="g" style="width:7.6px"></i><span class="k">、</span><i class="g" style="width:9.5px"></i><span class="k">伤害减免</span><b>35<em>%</em></b><i class="g" style="width:7.5px"></i><span class="k">、</span><i class="g" style="width:8.3px"></i><span class="k">不死冥火</span><b>5</b><span class="k">份</span></div>
<div class="c t" style="left:422.7px;top:670px;width:597.7px"><span class="k">体魄</span><b><s>+</s><u>1</u>00</b><span class="k">点、伤害减免</span><b><s>+</s>20<em>%</em></b><span class="k">、格挡几率</span><b><s>+</s>20<em>%</em></b><span class="k">、气血上限</span><b><s>+</s>50<em>%</em></b></div>
<div class="c m" style="left:1020.4px;top:671px;width:24.8px"><span>10</span></div>
<div class="c n" style="left:2.25px;top:684px;width:48.75px">佛门灵婴</div>
<div class="c t" style="left:52.9px;top:684px;width:367.9px"><span class="k">体魄</span><b>200</b><span class="k">、神魂</span><b>200</b><i class="g" style="width:7.8px"></i><span class="k">、高阶舍利子</span><b><u>1</u></b><span class="k">份</span></div>
<div class="c t" style="left:422.7px;top:684px;width:597.7px"><span class="k">体魄</span><b><s>+</s><u>1</u>00</b><span class="k">、神魂</span><b><s>+</s><u>1</u>00</b><span class="k">、格挡几率</span><b><s>+</s>20<em>%</em></b><span class="k">、寿命</span><b><s>+</s>500</b></div>
<div class="c m" style="left:1020.4px;top:684px;width:24.8px"><span>10</span></div>
<div class="c n" style="left:2.25px;top:695px;width:48.75px">天尸元婴</div>
<div class="c t" style="left:52.9px;top:695px;width:367.9px"><span class="k">体魄</span><b>200</b><span class="k">、反弹伤害比例</span><b>50<em>%</em></b><span class="k">、千年炼尸</span><b>5</b><span class="k">份</span></div>
<div class="c t" style="left:422.7px;top:695px;width:597.7px"><span class="k">体魄</span><b><s>+</s><u>1</u>00</b><span class="k">、力量</span><b><s>+</s><u>1</u>00</b><span class="k">、气血上限</span><b><s>+</s><u>1</u>00<em>%</em></b><span class="k">、反弹伤害比例</span><b><s>+</s>20<em>%</em></b></div>
<div class="c m" style="left:1020.4px;top:695px;width:24.8px"><span>10</span></div>
<div class="c n" style="left:2.25px;top:706px;width:48.75px">杀戮战婴</div>
<div class="c t" style="left:52.9px;top:706px;width:367.9px"><span class="k">体魄</span><b>200</b><span class="k">、力量</span><b>200</b><span class="k">、术法</span><b>200</b><span class="k">、物理暴击率</span><b>50<em>%</em></b><span class="k">、法术暴击率</span><b>50<em>%</em></b><span class="k">、战灵煞魂</span><b>3</b><span class="k">份</span></div>
<div class="c t" style="left:422.7px;top:706px;width:597.7px"><span class="k">体魄</span><b><s>+</s>200</b><span class="k">、神魂</span><b><s>+</s>200</b><span class="k">、最大物理攻击</span><b><s>+</s>40<em>%</em></b><span class="k">、最大法术攻击</span><b><s>+</s>40<em>%</em></b></div>
<div class="c m" style="left:1020.4px;top:706px;width:24.8px"><span>10</span></div>
<div class="c n" style="left:2.25px;top:717px;width:48.75px">上古元婴</div>
<div class="c t" style="left:52.9px;top:717px;width:367.9px"><span class="k">体魄</span><b>200</b><span class="k">、神魂</span><b>200</b><span class="k">、力量</span><b>200</b><span class="k">、术法</span><b>200</b><span class="k">、上古灵婴</span><b><u>1</u></b><span class="k">份</span></div>
<div class="c t" style="left:422.7px;top:717px;width:597.7px"><span class="k">体魄</span><b><s>+</s><u>1</u>00</b><span class="k">、气血上限</span><b><s>+</s>40<em>%</em></b><span class="k">、法力上限</span><b><s>+</s>40<em>%</em></b><span class="k">、神识上限</span><b><s>+</s>40<em>%</em></b></div>
<div class="c m" style="left:1020.4px;top:717px;width:24.8px"><span>10</span></div>
<div class="c n" style="left:2.25px;top:730px;width:48.75px">五行元婴</div>
<div class="c t" style="left:52.9px;top:730px;width:367.9px"><span class="k">体魄</span><b>400</b><span class="k">、神魂</span><b>400</b><i class="g" style="width:8.8px"></i><span class="k">、五灵根、五行灵珠</span><b><u>1</u>0</b><span class="k">份</span></div>
<div class="c t" style="left:422.7px;top:730px;width:597.7px"><span class="k">神魂</span><b><s>+</s><u>1</u>50</b><span class="k">、体魄</span><b><s>+</s><u>1</u>50</b><span class="k">、法力纯度</span><b><s>+</s>50</b><span class="k">、法力上限</span><b><s>+</s>50<em>%</em></b></div>
<div class="c m" style="left:1020.4px;top:731px;width:24.8px"><span>10</span></div>
<div class="c n" style="left:2.25px;top:741px;width:48.75px">完美元婴</div>
<div class="c t" style="left:52.9px;top:741px;width:367.9px"><span class="k">体魄</span><b>300</b><span class="k">、力量</span><b>300</b><span class="k">、术法</span><b>300</b><span class="k">、神魂</span><b>300</b></div>
<div class="c t" style="left:422.7px;top:741px;width:597.7px"><span class="k">体魄</span><b><s>+</s>250</b><span class="k">、力量</span><b><s>+</s>250</b><span class="k">、术法</span><b><s>+</s>250</b><span class="k">、神魂</span><b><s>+</s>250</b></div>
<div class="c m" style="left:1020.4px;top:742px;width:24.8px"><span>10</span></div>
<div class="c s" style="left:0px;top:752px;width:1046.7px"><span class="k">化神：元婴大圆满基础五维</span><b>230</b></div>
<div class="c n" style="left:2.25px;top:763px;width:48.75px">元神</div>
<div class="c t" style="left:52.9px;top:763px;width:367.9px"><span class="k">体魄</span><b>400</b><span class="k">、神魂</span><b>400</b></div>
<div class="c t" style="left:422.7px;top:763px;width:597.7px"><span class="k">体魄</span><b><s>+</s><u>1</u>00</b><span class="k">、术法</span><b><s>+</s><u>1</u>00</b><span class="k">、神魂</span><b><s>+</s><u>1</u>00</b><span class="k">、法力纯度</span><b><s>+</s>20</b></div>
<div class="c m" style="left:1020.4px;top:764px;width:24.8px"><span>10</span></div>
<div class="c n" style="left:2.25px;top:774px;width:48.75px">金之法则</div>
<div class="c t" style="left:52.9px;top:774px;width:367.9px"><span class="k">金系法术伤害</span><b>80<em>%</em></b><span class="k">、金系法术抗性</span><b>40<em>%</em></b><span class="k">、体魄</span><b>600</b><span class="k">、神魂</span><b>600</b><span class="k">、术法</span><b>600</b></div>
<div class="c t" style="left:422.7px;top:774px;width:597.7px"><span class="k">金系法术伤害</span><b><s>+</s>30<em>%</em></b><span class="k">、金系法术抗性</span><b><s>+</s>40<em>%</em></b><span class="k">、破伤害减免</span><b><s>+</s>20<em>%</em></b><span class="k">、破格挡几率</span><b><s>+</s>20<em>%</em></b><span class="k">、抗物理、法术穿透</span><b><s>+</s>30<em>%</em></b><span class="k">、炼器</span><b><s>+</s><u>1</u>50</b></div>
<div class="c m" style="left:1020.4px;top:775px;width:24.8px"><span>20</span></div>
<div class="c n" style="left:2.25px;top:785px;width:48.75px">木之法则</div>
<div class="c t" style="left:52.9px;top:785px;width:367.9px"><span class="k">木系法术伤害</span><b>80<em>%</em></b><span class="k">、木系法术抗性</span><b>40<em>%</em></b><span class="k">、体魄</span><b>600</b><span class="k">、神魂</span><b>600</b><span class="k">、术法</span><b>600</b></div>
<div class="c t" style="left:422.7px;top:785px;width:597.7px"><span class="k">木系法术伤害</span><b><s>+</s>30<em>%</em></b><span class="k">、木系法术抗性</span><b><s>+</s>40<em>%</em></b><span class="k">、治疗加成</span><b><s>+</s><u>1</u>20<em>%</em></b><span class="k">、忽视反弹伤害</span><b><s>+</s>20<em>%</em></b><span class="k">、抗物理、法术穿透</span><b><s>+</s>30<em>%</em></b><span class="k">、灵植</span><b><s>+</s><u>1</u>50</b></div>
<div class="c m" style="left:1020.4px;top:786px;width:24.8px"><span>20</span></div>
<div class="c n" style="left:2.25px;top:796px;width:48.75px">水之法则</div>
<div class="c t" style="left:52.9px;top:796px;width:367.9px"><span class="k">水系法术伤害</span><b>80<em>%</em></b><span class="k">、水系法术抗性</span><b>40<em>%</em></b><span class="k">、体魄</span><b>600</b><span class="k">、神魂</span><b>600</b><span class="k">、术法</span><b>600</b></div>
<div class="c t" style="left:422.7px;top:796px;width:597.7px"><span class="k">水系法术伤害</span><b><s>+</s>30<em>%</em></b><span class="k">、水系法术抗性</span><b><s>+</s>40<em>%</em></b><span class="k">、伤害减免</span><b><s>+</s><u>1</u>5<em>%</em></b><span class="k">、破伤害减免</span><b><s>+</s>20<em>%</em></b><span class="k">、抗物理、法术穿透</span><b><s>+</s>30<em>%</em></b><span class="k">、制符</span><b><s>+</s><u>1</u>50</b></div>
<div class="c m" style="left:1020.4px;top:797px;width:24.8px"><span>20</span></div>
<div class="c n" style="left:2.25px;top:807px;width:48.75px">火之法则</div>
<div class="c t" style="left:52.9px;top:807px;width:367.9px"><span class="k">火系法术伤害</span><b>80<em>%</em></b><span class="k">、火系法术抗性</span><b>40<em>%</em></b><span class="k">、体魄</span><b>600</b><span class="k">、神魂</span><b>600</b><span class="k">、术法</span><b>600</b></div>
<div class="c t" style="left:422.7px;top:807px;width:597.7px"><span class="k">火系法术伤害</span><b><s>+</s>30<em>%</em></b><span class="k">、火系法术抗性</span><b><s>+</s>40<em>%</em></b><span class="k">、额外暴击率</span><b><s>+</s><u>1</u>5<em>%</em></b><span class="k">、破伤害减免</span><b><s>+</s><u>1</u>5<em>%</em></b><span class="k">、抗物理、法术穿透</span><b><s>+</s>30<em>%</em></b><span class="k">、炼丹</span><b><s>+</s><u>1</u>50</b></div>
<div class="c m" style="left:1020.4px;top:808px;width:24.8px"><span>20</span></div>
<div class="c n" style="left:2.25px;top:818px;width:48.75px">土之法则</div>
<div class="c t" style="left:52.9px;top:818px;width:367.9px"><span class="k">土系法术伤害</span><b>80<em>%</em></b><span class="k">、土系法术抗性</span><b>40<em>%</em></b><span class="k">、体魄</span><b>600</b><span class="k">、神魂</span><b>600</b><span class="k">、术法</span><b>600</b></div>
<div class="c t" style="left:422.7px;top:818px;width:597.7px"><span class="k">土系法术伤害</span><b><s>+</s>30<em>%</em></b><span class="k">、土系法术抗性</span><b><s>+</s>40<em>%</em></b><span class="k">、格挡几率</span><b><s>+</s><u>1</u>5<em>%</em></b><span class="k">、伤害减免</span><b><s>+</s><u>1</u>5<em>%</em></b><span class="k">、抗物理、法术穿透</span><b><s>+</s>30<em>%</em></b><span class="k">、阵法</span><b><s>+</s><u>1</u>50</b></div>
<div class="c m" style="left:1020.4px;top:819px;width:24.8px"><span>20</span></div>
<div class="c n" style="left:2.25px;top:830px;width:48.75px">冰之法则</div>
<div class="c t" style="left:52.9px;top:830px;width:367.9px"><span class="k">冰系法术伤害</span><b>80<em>%</em></b><span class="k">、冰系法术抗性</span><b>40<em>%</em></b><span class="k">、体魄</span><b>600</b><span class="k">、神魂</span><b>600</b><span class="k">、术法</span><b>600</b></div>
<div class="c t" style="left:422.7px;top:830px;width:597.7px"><span class="k">冰系法术伤害</span><b><s>+</s>30<em>%</em></b><span class="k">、冰系法术抗性</span><b><s>+</s>40<em>%</em></b><span class="k">、额外闪避率</span><b><s>+</s><u>1</u>5<em>%</em></b><span class="k">、破护身法盾减免</span><b><s>+</s>20<em>%</em></b><span class="k">、抗物理、法术穿透</span><b><s>+</s>30<em>%</em></b><span class="k">、制法</span><b><s>+</s><u>1</u>50</b></div>
<div class="c m" style="left:1020.4px;top:830px;width:24.8px"><span>20</span></div>
<div class="c n" style="left:2.25px;top:841px;width:48.75px">风之法则</div>
<div class="c t" style="left:52.9px;top:841px;width:367.9px"><span class="k">风系法术伤害</span><b>80<em>%</em></b><span class="k">、风系法术抗性</span><b>40<em>%</em></b><span class="k">、体魄</span><b>600</b><span class="k">、神魂</span><b>600</b><span class="k">、术法</span><b>600</b></div>
<div class="c t" style="left:422.7px;top:841px;width:597.7px"><span class="k">风系法术伤害</span><b><s>+</s>30<em>%</em></b><span class="k">、风系法术抗性</span><b><s>+</s>40<em>%</em></b><span class="k">、额外闪避率</span><b><s>+</s><u>1</u>5<em>%</em></b><span class="k">、破格挡减免</span><b><s>+</s><u>1</u>5<em>%</em></b><span class="k">、抗物理、法术穿透</span><b><s>+</s>30<em>%</em></b><span class="k">、阵法</span><b><s>+</s><u>1</u>50</b></div>
<div class="c m" style="left:1020.4px;top:841px;width:24.8px"><span>20</span></div>
<div class="c n" style="left:2.25px;top:852px;width:48.75px">雷之法则</div>
<div class="c t" style="left:52.9px;top:852px;width:367.9px"><span class="k">雷系法术伤害</span><b>80<em>%</em></b><span class="k">、雷系法术抗性</span><b>40<em>%</em></b><span class="k">、体魄</span><b>600</b><span class="k">、神魂</span><b>600</b><span class="k">、术法</span><b>600</b></div>
<div class="c t" style="left:422.7px;top:852px;width:597.7px"><span class="k">雷系法术伤害</span><b><s>+</s>30<em>%</em></b><span class="k">、雷系法术抗性</span><b><s>+</s>40<em>%</em></b><span class="k">、额外暴击率</span><b><s>+</s>20<em>%</em></b><span class="k">、破伤害减免</span><b><s>+</s><u>1</u>5<em>%</em></b><span class="k">、抗物理、法术穿透</span><b><s>+</s>30<em>%</em></b><span class="k">、炼器</span><b><s>+</s><u>1</u>50</b></div>
<div class="c m" style="left:1020.4px;top:852px;width:24.8px"><span>20</span></div>
<div class="c n" style="left:2.25px;top:863px;width:48.75px">阴之法则</div>
<div class="c t" style="left:52.9px;top:863px;width:367.9px"><span class="k">水系法术伤害</span><b>50<em>%</em></b><span class="k">、水系法术抗性</span><b>50<em>%</em></b><span class="k">、术法</span><b><u>1</u>000</b><span class="k">、气血上限</span><b><u>1</u>600000</b></div>
<div class="c t" style="left:422.7px;top:863px;width:597.7px"><span class="k">法术攻击</span><b><s>+</s>2</b><span class="k">万、水系抗性</span><b><s>+</s>60<em>%</em></b><span class="k">、法术穿透</span><b><s>+</s>20<em>%</em></b><span class="k">、破伤害减免</span><b><s>+</s><u>1</u>5<em>%</em></b><span class="k">、抗物理、法术穿透</span><b><s>+</s>30<em>%</em></b><span class="k">、制符</span><b><s>+</s><u>1</u>50</b></div>
<div class="c m" style="left:1020.4px;top:863px;width:24.8px"><span>20</span></div>
<div class="c n" style="left:2.25px;top:874px;width:48.75px">阳之法则</div>
<div class="c t" style="left:52.9px;top:874px;width:367.9px"><span class="k">火系法术伤害</span><b>50<em>%</em></b><span class="k">、火系法术抗性</span><b>50<em>%</em></b><span class="k">、术法</span><b><u>1</u>000</b><span class="k">、法力上限</span><b><u>1</u>600000</b></div>
<div class="c t" style="left:422.7px;top:874px;width:597.7px"><span class="k">法术攻击</span><b><s>+</s>2</b><span class="k">万、火系抗性</span><b><s>+</s>60<em>%</em></b><span class="k">、法术穿透</span><b><s>+</s>20<em>%</em></b><span class="k">、破伤害减免</span><b><s>+</s><u>1</u>5<em>%</em></b><span class="k">、抗物理、法术穿透</span><b><s>+</s>30<em>%</em></b><span class="k">、炼丹</span><b><s>+</s><u>1</u>50</b></div>
<div class="c m" style="left:1020.4px;top:874px;width:24.8px"><span>20</span></div>
<div class="c n" style="left:2.25px;top:885px;width:48.75px">五行法则</div>
<div class="c t" style="left:52.9px;top:885px;width:367.9px"><span class="k">金木水火土五行法术伤害</span><b><u>1</u>00<em>%</em></b></div>
<div class="c t" style="left:422.7px;top:885px;width:597.7px"><span class="k">金木水火土五行法术伤害</span><b><s>+</s>40<em>%</em></b><span class="k">、金木水火土五行法术抗性</span><b><s>+</s>40<em>%</em></b><span class="k">、法术穿透</span><b><s>+</s>30<em>%</em></b><span class="k">、抗物理法术穿透</span><b><s>+</s>50<em>%</em></b></div>
<div class="c m" style="left:1020.4px;top:885px;width:24.8px"><span>20</span></div>
<div class="c n" style="left:2.25px;top:896px;width:48.75px">空间法则</div>
<div class="c t" style="left:52.9px;top:896px;width:367.9px"><span class="k">物理闪避率</span><b>65<em>%</em></b><span class="k">、法术闪避率</span><b>65<em>%</em></b><span class="k">、风系法术抗性</span><b>60<em>%</em></b><span class="k">、悟性</span><b>600</b><span class="k">、法力纯度</span><b><u>1</u>00</b></div>
<div class="c t" style="left:422.7px;top:896px;width:597.7px"><span class="k">额外闪避率</span><b><s>+</s>25<em>%</em></b><span class="k">、伤害减免</span><b><s>+</s><u>1</u>5<em>%</em></b><span class="k">、抗物理、法术穿透</span><b><s>+</s>50<em>%</em></b><span class="k">、物理（法术）命中</span><b><s>+</s><u>1</u>00<em>%</em></b><span class="k">、忽视反弹、重击、物理暴击效果</span></div>
<div class="c m" style="left:1020.4px;top:896px;width:24.8px"><span>20</span></div>
<div class="c n" style="left:2.25px;top:907px;width:48.75px">轮回法则</div>
<div class="c t" style="left:52.9px;top:907px;width:367.9px"><span class="k">寿命</span><b>5000</b><span class="k">、悟性</span><b>600</b><span class="k">、法力纯度</span><b><u>1</u>00</b></div>
<div class="c t" style="left:422.7px;top:907px;width:597.7px"><span class="k">寿命</span><b><s>+</s><u>1</u>000</b><span class="k">年、悟性</span><b><s>+</s><u>1</u>00</b><span class="k">、道心</span><b><s>+</s><u>1</u>00</b><span class="k">、修炼速度</span><b><s>+</s>200<em>%</em></b><span class="k">（此法则转世重生时永久保留）</span></div>
<div class="c m" style="left:1020.4px;top:907px;width:24.8px"><span>20</span></div>
<div class="c n" style="left:2.25px;top:918px;width:48.75px">力量法则</div>
<div class="c t" style="left:52.9px;top:918px;width:367.9px"><span class="k">力量</span><b><u>1</u>000</b><span class="k">、最大物理攻击</span><b>60000</b></div>
<div class="c t" style="left:422.7px;top:918px;width:597.7px"><span class="k">力量</span><b><s>+</s>50<em>%</em></b><span class="k">、体魄</span><b><s>+</s><u>1</u>5<em>%</em></b><span class="k">、物理攻击</span><b><s>+</s><u>1</u></b><span class="k">万、抗物理、法术穿透</span><b><s>+</s>30<em>%</em></b></div>
<div class="c m" style="left:1020.4px;top:918px;width:24.8px"><span>20</span></div>
<div class="c n" style="left:2.25px;top:929px;width:48.75px">神魂法则</div>
<div class="c t" style="left:52.9px;top:929px;width:367.9px"><span class="k">神魂</span><b><u>1</u>000</b><span class="k">、神识上限</span><b><u>1</u>80000</b></div>
<div class="c t" style="left:422.7px;top:929px;width:597.7px"><span class="k">神魂</span><b><s>+</s>50<em>%</em></b><span class="k">、术法</span><b><s>+</s><u>1</u>5<em>%</em></b><span class="k">、神识上限</span><b><s>+</s><u>1</u></b><span class="k">万、抗物理、法术穿透</span><b><s>+</s>30<em>%</em></b></div>
<div class="c m" style="left:1020.4px;top:929px;width:24.8px"><span>20</span></div>
<div class="c n" style="left:2.25px;top:940px;width:48.75px">炼体法则</div>
<div class="c t" style="left:52.9px;top:940px;width:367.9px"><span class="k">体魄</span><b><u>1</u>000</b><span class="k">、气血上限</span><b>3000000</b></div>
<div class="c t" style="left:422.7px;top:940px;width:597.7px"><span class="k">体魄</span><b><s>+</s>50<em>%</em></b><span class="k">、力量</span><b><s>+</s><u>1</u>5<em>%</em></b><span class="k">、气血上限</span><b><s>+</s><u>1</u>0</b><span class="k">万、抗物理法术穿透</span><b><s>+</s>30<em>%</em></b></div>
<div class="c m" style="left:1020.4px;top:940px;width:24.8px"><span>20</span></div>
<div class="c n" style="left:2.25px;top:951px;width:48.75px">术之法则</div>
<div class="c t" style="left:52.9px;top:951px;width:367.9px"><span class="k">术法</span><b><u>1</u>000</b><span class="k">、最大法术攻击</span><b>60000</b></div>
<div class="c t" style="left:422.7px;top:951px;width:597.7px"><span class="k">术法</span><b><s>+</s>50<em>%</em></b><span class="k">、神魂</span><b><s>+</s><u>1</u>5<em>%</em></b><span class="k">、法术攻击</span><b><s>+</s><u>1</u></b><span class="k">万、抗物理、法术穿透</span><b><s>+</s>30<em>%</em></b></div>
<div class="c m" style="left:1020.4px;top:951px;width:24.8px"><span>20</span></div>
<div class="c n" style="left:2.25px;top:962px;width:48.75px">尸道法则</div>
<div class="c t" style="left:52.9px;top:962px;width:367.9px"><span class="k">魔念</span><b>80</b><span class="k">、体魄</span><b>800</b><span class="k">、神魂</span><b>600</b><span class="k">、反弹伤害比例</span><b>80<em>%</em></b></div>
<div class="c t" style="left:422.7px;top:962px;width:597.7px"><span class="k">体魄</span><b><s>+</s>30<em>%</em></b><span class="k">、气血上限</span><b><s>+</s><u>1</u>00<em>%</em></b><span class="k">、反弹伤害</span><b><s>+</s>20<em>%</em></b><span class="k">、免疫反弹效果、抗物理、法术穿透</span><b><s>+</s>30<em>%</em></b></div>
<div class="c m" style="left:1020.4px;top:962px;width:24.8px"><span>20</span></div>
<div class="c n" style="left:2.25px;top:973px;width:48.75px">欲念法则</div>
<div class="c t" style="left:52.9px;top:973px;width:367.9px"><span class="k">魔念</span><b>80</b><span class="k">、术法</span><b>800</b><span class="k">、神魂</span><b>600</b><span class="k">、神识上限</span><b><u>1</u>80000</b></div>
<div class="c t" style="left:422.7px;top:973px;width:597.7px"><span class="k">神魂</span><b><s>+</s>50<em>%</em></b><span class="k">、神识上限</span><b><s>+</s>30<em>%</em></b><span class="k">、生育几率</span><b><s>+</s>300<em>%</em></b><span class="k">、元气恢复速度</span><b><s>+</s>500<em>%</em></b><span class="k">、免疫神魂控制效果、抗物理、法术穿透</span><b><s>+</s>30<em>%</em></b></div>
<div class="c m" style="left:1020.4px;top:973px;width:24.8px"><span>20</span></div>
<div class="c n" style="left:2.25px;top:984px;width:48.75px">魔之法则</div>
<div class="c t" style="left:52.9px;top:984px;width:367.9px"><span class="k">魔念</span><b><u>1</u>00</b><span class="k">、体魄</span><b>800</b><span class="k">、神魂</span><b>600</b><span class="k">、力量</span><b>600</b><span class="k">、术法</span><b>600</b></div>
<div class="c t" style="left:422.7px;top:984px;width:597.7px"><span class="k">体魄</span><b><s>+</s>30<em>%</em></b><span class="k">、术法</span><b><s>+</s>30<em>%</em></b><span class="k">、力量</span><b><s>+</s>30<em>%</em></b><span class="k">、伤害减免</span><b><s>+</s><u>1</u>0<em>%</em></b><span class="k">、气血上限</span><b><s>+</s><u>1</u>00<em>%</em></b><span class="k">、抗物理法术穿透</span><b><s>+</s>30<em>%</em></b></div>
<div class="c m" style="left:1020.4px;top:984px;width:24.8px"><span>20</span></div>
<div class="c n" style="left:2.25px;top:995px;width:48.75px">破坏法则</div>
<div class="c t" style="left:52.9px;top:995px;width:367.9px"><span class="k">力量</span><b><u>1</u>000</b><span class="k">、物理暴击率</span><b>65<em>%</em></b><span class="k">、物理穿透</span><b>65<em>%</em></b><span class="k">、重击几率</span><b>50<em>%</em></b></div>
<div class="c t" style="left:422.7px;top:995px;width:597.7px"><span class="k">力量</span><b><s>+</s>30<em>%</em></b><span class="k">、物理攻击</span><b><s>+</s><u>1</u>.5</b><span class="k">万、破伤害减免</span><b><s>+</s><u>1</u>5<em>%</em></b><span class="k">、额外重击伤害</span><b><s>+</s><u>1</u>0</b><span class="k">万、免疫重击效果、抗物理、法术穿透</span><b><s>+</s>30<em>%</em></b></div>
<div class="c m" style="left:1020.4px;top:996px;width:24.8px"><span>20</span></div>
<div class="c n" style="left:2.25px;top:1006px;width:48.75px">因果法则</div>
<div class="c t" style="left:52.9px;top:1006px;width:367.9px"><span class="k">气运</span><b>500</b></div>
<div class="c t" style="left:422.7px;top:1006px;width:597.7px"><span class="k">未知法则、无法探测</span></div>
<div class="c m" style="left:1020.4px;top:1007px;width:24.8px"><span>20</span></div>
<div class="c n" style="left:2.25px;top:1030px;width:48.75px">剑道法则</div>
<div class="c t" style="left:52.9px;top:1030px;width:367.9px"><span class="k">剑道</span><b>400</b></div>
<div class="c t" style="left:422.7px;top:1018px;width:597.7px"><span class="k">剑道</span><b><s>+</s><u>1</u>00</b><span class="k">、悟性</span><b><s>+</s><u>1</u>00</b><span class="k">物理攻击</span><b><s>+</s><u>1</u>.5</b><span class="k">万、抗物理、法术穿透</span><b><s>+</s>30<em>%</em></b></div>
<div class="c t sp" style="left:422.7px;top:1029px;width:597.7px"><span class="k">特殊效果：剑心（剑道</span><b><s>+</s>50</b><span class="k">、道心</span><b><s>+</s>50</b><span class="k">、转世时保留）</span></div>
<div class="c m" style="left:1020.4px;top:1030px;width:24.8px"><span>20</span></div>
<div class="c n" style="left:2.25px;top:1054px;width:48.75px">时间法则</div>
<div class="c t" style="left:52.9px;top:1054px;width:367.9px"><span class="k">攻击速度</span><b>300<em>%</em></b><span class="k">、气血恢复速度</span><b>2000</b><span class="k">、法力恢复速度</span><b>2000</b><span class="k">、悟性</span><b>600</b><span class="k">、法力纯度</span><b><u>1</u>00</b></div>
<div class="c t" style="left:422.7px;top:1042px;width:597.7px"><span class="k">丹毒消散速度</span><b><s>+</s>200<em>%</em></b><span class="k">、修炼速度</span><b><s>+</s>300<em>%</em></b><span class="k">、气血（法力、元气）恢复速度</span><b><s>+</s>500<em>%</em></b><span class="k">、抗物理、法术穿透</span><b><s>+</s>30<em>%</em></b><span class="k">、忽视反弹、重击、吸血效果</span></div>
<div class="c t sp" style="left:422.7px;top:1053px;width:597.7px"><span class="k">特殊效果：乾坤万法冷却降低至</span><b><u>1</u>20</b><span class="k">秒</span></div>
<div class="c m" style="left:1020.4px;top:1054px;width:24.8px"><span>20</span></div>
<div class="c n" style="left:2.25px;top:1078px;width:48.75px">生命法则</div>
<div class="c t" style="left:52.9px;top:1078px;width:367.9px"><span class="k">寿命</span><b>3000</b><span class="k">、气血上限</span><b>5000000</b></div>
<div class="c t" style="left:422.7px;top:1066px;width:597.7px"><span class="k">寿命</span><b><s>+</s>2000</b><span class="k">年、体魄</span><b><s>+</s>30<em>%</em></b><span class="k">、气血上限</span><b><s>+</s><u>1</u>00<em>%</em></b><span class="k">、治疗加成效果</span><b><s>+</s>200<em>%</em></b></div>
<div class="c t sp" style="left:422.7px;top:1077px;width:597.7px"><span class="k">特殊效果：生命真谛（受到致命攻击时有几率直接恢复</span><b>50<em>%</em></b><span class="k">气血）</span></div>
<div class="c m" style="left:1020.4px;top:1078px;width:24.8px"><span>20</span></div>
<div class="c n" style="left:2.25px;top:1101px;width:48.75px">死亡法则</div>
<div class="c t" style="left:52.9px;top:1101px;width:367.9px"><span class="k">寿命</span><b>3000</b><span class="k">、道心</span><b><u>1</u>50</b></div>
<div class="c t" style="left:422.7px;top:1090px;width:597.7px"><span class="k">寿命</span><b><s>+</s><u>1</u>000</b><span class="k">年、神魂</span><b><s>+</s>30<em>%</em></b><span class="k">、气血上限</span><b><s>+</s><u>1</u>00<em>%</em></b><span class="k">、物理法术攻击</span><b><s>+</s>3</b><span class="k">万</span></div>
<div class="c t sp" style="left:422.7px;top:1100px;width:597.7px"><span class="k">特殊效果：死亡真谛（受到致命攻击时有几率获得死亡真谛，期间不会被技能伤害击杀）</span></div>
<div class="c m" style="left:1020.4px;top:1102px;width:24.8px"><span>20</span></div>
<div class="c n" style="left:2.25px;top:1125px;width:48.75px">吞噬法则</div>
<div class="c t" style="left:52.9px;top:1125px;width:367.9px"><span class="k">寿命</span><b>3000</b><span class="k">、物理吸血</span><b>65<em>%</em></b><span class="k">、法术吸血</span><b>65<em>%</em></b><span class="k">、气血上限</span><b>3000000</b><span class="k">、法力上限</span><b>3000000</b></div>
<div class="c t" style="left:422.7px;top:1113px;width:597.7px"><span class="k">物理、法术吸血</span><b><s>+</s>20<em>%</em></b><span class="k">、气血上限</span><b><s>+</s>200<em>%</em></b><span class="k">、法力上限</span><b><s>+</s>200<em>%</em></b></div>
<div class="c t sp" style="left:422.7px;top:1124px;width:597.7px"><span class="k">特殊效果：吞噬（击杀目标时获得，每层修炼速度</span><b><s>+</s>5<em>%</em></b><span class="k">，最大</span><b>99</b><span class="k">层、持续</span><b>20</b><span class="k">分钟）</span></div>
<div class="c m" style="left:1020.4px;top:1125px;width:24.8px"><span>20</span></div>
</body></html>
